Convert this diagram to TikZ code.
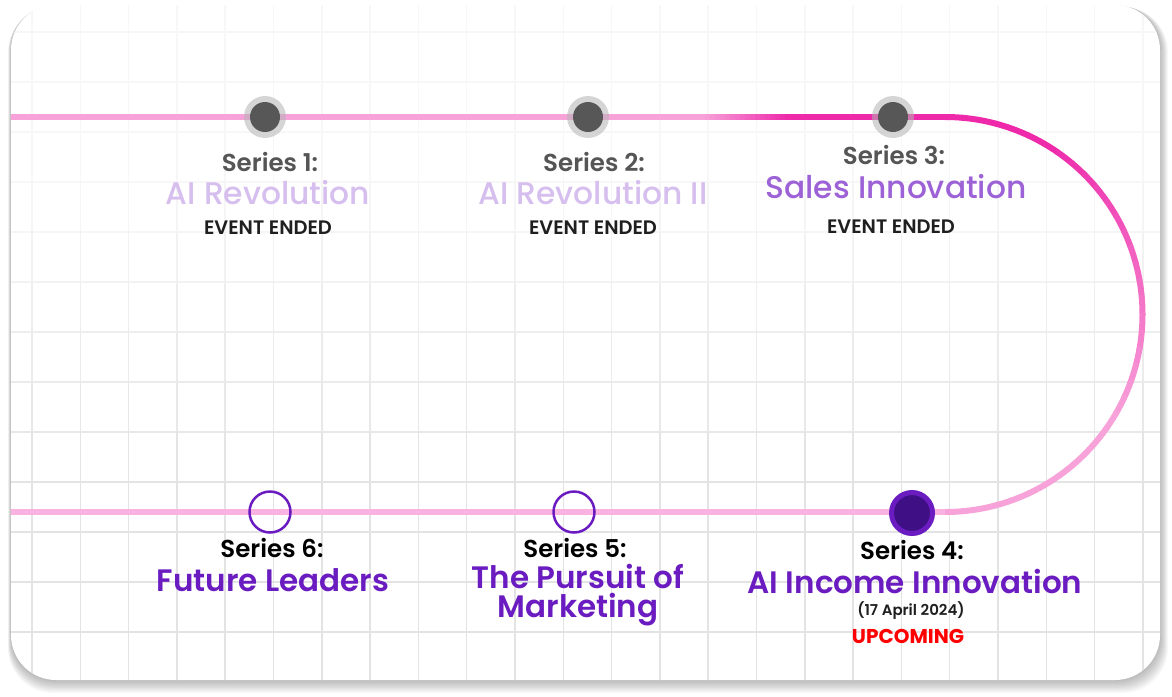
\documentclass[tikz,border=0pt]{standalone}
\usepackage{fontspec}
\setmainfont{Poppins}
\newfontfamily\popmed{Poppins Medium}
\newfontfamily\popsemi{Poppins SemiBold}
\usetikzlibrary{positioning}

\definecolor{trackpink}{HTML}{F7A3DA}
\definecolor{trackmag}{HTML}{EE2AAB}
\definecolor{tracklight}{HTML}{F9B3E0}
\definecolor{ringgray}{HTML}{B4B4B4}
\definecolor{dotgray}{HTML}{575757}
\definecolor{seriesgray}{HTML}{555555}
\definecolor{fadedtitle}{HTML}{D6BFEE}
\definecolor{midtitle}{HTML}{9C62D6}
\definecolor{titlepurple}{HTML}{6A1CC0}
\definecolor{dotpurple}{HTML}{3F0F85}
\definecolor{endedgray}{HTML}{1F1F1F}
\definecolor{upred}{HTML}{FF0000}

\begin{document}
\begin{tikzpicture}[x=1pt, y=-1pt,
  track/.style={line width=6pt},
  donedot/.style={circle, fill=ringgray, fill opacity=0.55, minimum size=42pt, inner sep=0pt},
  opendot/.style={circle, draw=titlepurple, line width=2.5pt, minimum size=41pt, inner sep=0pt},
  nextdot/.style={circle, fill=dotpurple, draw=titlepurple, line width=5pt, minimum size=41pt, inner sep=0pt},
  serieslbl/.style={anchor=base, font=\popsemi\fontsize{24.5}{27}\selectfont},
  oldtitle/.style={anchor=base, font=\popmed\fontsize{31.3}{33}\selectfont},
  newtitle/.style={anchor=base, align=center, text=titlepurple, font=\popsemi\fontsize{31}{29}\selectfont},
  status/.style={anchor=base, font=\popsemi\fontsize{19.5}{21}\selectfont}]
\useasboundingbox (0,0) rectangle (1172,696);
\fill[white] (0,0) rectangle (1172,696);

% card with its shadow
\foreach \i in {1,...,10}
  \fill[black, opacity=0.028, rounded corners=45pt] ({11-0.3*\i},{5+0.2*\i}) rectangle ({1160+0.8*\i},{680+1.3*\i});
\fill[white, rounded corners=45pt] (11,5) rectangle (1160,680);

\begin{scope}
\clip[rounded corners=45pt] (11,5) rectangle (1160,680);
% grid, fainter towards the top
\foreach \r in {0,...,13} {
  \pgfmathsetmacro\yy{32+50*\r}
  \pgfmathsetmacro\c{min(11,max(3,3+8*(\yy-200)/300))}
  \draw[black!\c, line width=1.5pt] (11,\yy) -- (1160,\yy);
  \foreach \k in {0,...,23}
    \draw[black!\c, line width=1.5pt] ({32+48.3*\k},{\yy-50}) -- ({32+48.3*\k},\yy);
}

% stops on the track
\coordinate (tstart) at (11,117);
\coordinate (p1) at (265,117);
\coordinate (p2) at (588,117);
\coordinate (fadein) at (700,117);
\coordinate (fadeout) at (790,117);
\coordinate (p3) at (893,117);
\coordinate (tturn) at (945,117);
\coordinate (bturn) at (945,512);
\coordinate (p4) at (912,512);
\coordinate (p5) at (574,512);
\coordinate (p6) at (270,512);
\coordinate (bend) at (11,512);

% track
\draw[track, trackpink] (tstart) -- (p1) -- (p2) -- (fadein);
\foreach \x in {700,705,...,785} {
  \pgfmathsetmacro\m{(\x-700)/85*100}
  \draw[track, trackmag!\m!trackpink] (\x,117) -- (\x+5.5,117);
}
\draw[track, trackmag] (fadeout) -- (p3) -- (tturn);
\foreach \a in {-90,-85,...,85} {
  \pgfmathsetmacro\m{min(100,max(0,(30-\a)/90*100))}
  \draw[track, trackmag!\m!trackpink, line cap=round] (945,314.5) ++(\a:197.5) arc[start angle=\a, end angle=\a+5, radius=197.5];
}
\draw[track, tracklight] (bturn) -- (p4) -- (p5) -- (p6) -- (bend);
\end{scope}

% dots
\node[donedot] (s1) at (p1) {};
\node[donedot] (s2) at (p2) {};
\node[donedot] (s3) at (p3) {};
\fill[dotgray] (s1) circle[radius=15];
\fill[dotgray] (s2) circle[radius=15];
\fill[dotgray] (s3) circle[radius=15];
\node[nextdot] (s4) at (912,513) {};
\node[opendot] (s5) at (p5) {};
\node[opendot] (s6) at (p6) {};

% labels, upper row
\node[serieslbl, text=seriesgray] (l1) at (270,171) {Series 1:};
\node[oldtitle, text=fadedtitle] (t1) at (268,204) {AI Revolution};
\node[status, text=endedgray] (e1) at (268,234) {EVENT ENDED};
\node[serieslbl, text=seriesgray] (l2) at (594,171) {Series 2:};
\node[oldtitle, text=fadedtitle] (t2) at (593,204) {AI Revolution II};
\node[status, text=endedgray] (e2) at (593,234) {EVENT ENDED};
\node[serieslbl, text=seriesgray] (l3) at (894,164) {Series 3:};
\node[oldtitle, text=midtitle] (t3) at (896,198) {Sales Innovation};
\node[status, text=endedgray] (e3) at (891,233) {EVENT ENDED};

% labels, lower row
\node[serieslbl, text=black] (l6) at (272,557) {Series 6:};
\node[newtitle] (t6) at (273,591) {Future Leaders};
\node[serieslbl, text=black] (l5) at (575,557) {Series 5:};
\node[newtitle] (t5) at (578,617) {The Pursuit of\\Marketing};
\node[serieslbl, text=black] (l4) at (912,559) {Series 4:};
\node[newtitle] (t4) at (915,593) {AI Income Innovation};
\node[anchor=base, font=\popsemi\fontsize{15}{17}\selectfont, text=endedgray] (d4) at (911,615) {(17 April 2024)};
\node[status, text=upred, font=\bfseries\fontsize{20}{22}\selectfont] (u4) at (908,643) {UPCOMING};

\end{tikzpicture}
\end{document}
